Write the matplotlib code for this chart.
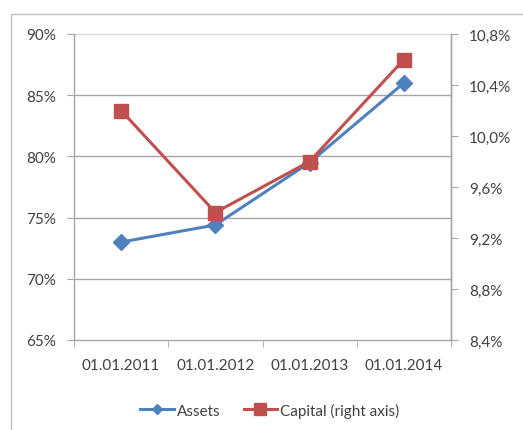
import matplotlib
matplotlib.use("Agg")
import matplotlib.pyplot as plt
from matplotlib.ticker import FixedLocator, FuncFormatter
from matplotlib.patches import Rectangle
from matplotlib.lines import Line2D

categories = ["01.01.2011", "01.01.2012", "01.01.2013", "01.01.2014"]
assets = [73.0, 74.4, 79.5, 86.0]
capital = [10.2, 9.4, 9.8, 10.6]
left_ticks = [65, 70, 75, 80, 85, 90]
right_ticks = [8.4, 8.8, 9.2, 9.6, 10.0, 10.4, 10.8]

blue = "#4F81BD"
red = "#C0504D"
txt = "#404040"
grid = "#A6A6A6"

plt.rcParams['font.family'] = ['Lato', 'DejaVu Sans']

W, H = 523, 431
fig = plt.figure(figsize=(W / 100, H / 100), dpi=100)
fig.patches.append(Rectangle((11 / W, -0.01), 1.0, 1 - 15 / H + 0.01, transform=fig.transFigure,
                             fill=False, edgecolor="#BFBFBF", linewidth=1.0))

ax = fig.add_axes([74 / W, 1 - 341 / H, (451 - 74) / W, (341 - 35) / H])
ax2 = ax.twinx()

x = list(range(len(categories)))
ax.set_xlim(-0.5, len(categories) - 0.5)
ax.set_ylim(65, 90)
ax2.set_ylim(8.4, 10.8)

ax.yaxis.set_major_locator(FixedLocator(left_ticks))
ax.yaxis.set_major_formatter(FuncFormatter(lambda v, p: f"{v:.0f}%"))
ax2.yaxis.set_major_locator(FixedLocator(right_ticks))
ax2.yaxis.set_major_formatter(FuncFormatter(lambda v, p: f"{v:.1f}%".replace(".", ",")))

for t in left_ticks[1:]:
    ax.axhline(t, color=grid if t < 90 else "#D9D9D9", linewidth=1.0, zorder=0, clip_on=False)

ax.set_xticks(x)
ax.set_xticklabels(categories)
ax.set_xticks([i - 0.5 for i in range(len(categories) + 1)], minor=True)
ax.tick_params(axis='x', which='major', length=0, pad=13, labelsize=11, colors=txt)
ax.tick_params(axis='x', which='minor', length=5, color=grid, direction='out')
ax.tick_params(axis='y', length=5, color=grid, labelsize=11, labelcolor=txt, pad=8)
ax2.tick_params(axis='y', length=5, color=grid, labelsize=11, labelcolor=txt, pad=8)

for a in (ax, ax2):
    for s in a.spines.values():
        s.set_color(grid)
        s.set_linewidth(1.0)
    a.spines['top'].set_visible(False)
ax2.spines['left'].set_visible(False)
ax2.spines['bottom'].set_visible(False)

ax.plot(x, assets, color=blue, linewidth=2.2, marker='D', markersize=8, zorder=3)
ax2.plot(x, capital, color=red, linewidth=2.2, marker='s', markersize=10, zorder=3)

handles = [Line2D([], [], color=blue, linewidth=2.2, marker='D', markersize=5),
           Line2D([], [], color=red, linewidth=2.2, marker='s', markersize=8)]
fig.legend(handles, ["Assets", "Capital (right axis)"], loc='center', bbox_to_anchor=(270 / W, 1 - 411 / H),
           ncol=2, frameon=False, fontsize=11, labelcolor=txt, handlelength=2.2, handletextpad=0.2,
           columnspacing=1.5)

fig.savefig("out.png", dpi=100)
